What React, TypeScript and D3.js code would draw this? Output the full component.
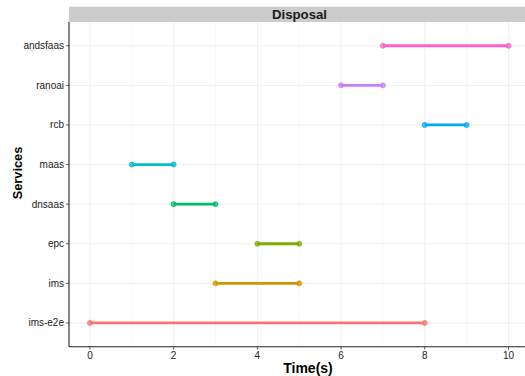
import React from "react";
import * as d3 from "d3";

const services = ["ims-e2e", "ims", "epc", "dnsaas", "maas", "rcb", "ranoai", "andsfaas"];
const startTimes = [0, 3, 4, 2, 1, 8, 6, 7];
const endTimes = [8, 5, 5, 3, 2, 9, 7, 10];
const colors = ["#F8766D", "#CD9600", "#7CAE00", "#00BE67", "#00BFC4", "#00A9FF", "#C77CFF", "#FF61CC"];
const xTicks = [0, 2, 4, 6, 8, 10];
const xMinor = [1, 3, 5, 7, 9];
const facetLabel = "Disposal";

const W = 525, H = 376;
const left = 69, right = 529.4, top = 22, bottom = 346.7;

export default function App() {
  const x = d3.scaleLinear().domain([-0.5, 10.5]).range([left, right]);
  const y = d3.scaleLinear().domain([0.4, services.length + 0.6]).range([bottom, top]);
  const font = "'Liberation Sans', Arial, Helvetica, sans-serif";
  return (
    <svg width={W} height={H} style={{ position: "absolute", left: 0, top: 0 }} fontFamily={font}>
      <rect x={0} y={0} width={W} height={H} fill="#fff" />
      <rect x={left} y={6.7} width={right - left} height={top - 6.7} fill="#cccccc" />
      <text x={299.5} y={19} textAnchor="middle" fontWeight="bold" fontSize={13.2} fill="#1a1a1a">{facetLabel}</text>
      {xMinor.map((t) => (
        <line key={"mn" + t} x1={x(t)} x2={x(t)} y1={top} y2={bottom} stroke="#f2f2f2" strokeWidth={0.6} />
      ))}
      {xTicks.map((t) => (
        <line key={"mj" + t} x1={x(t)} x2={x(t)} y1={top} y2={bottom} stroke="#ebebeb" strokeWidth={0.8} />
      ))}
      {services.map((s, i) => (
        <line key={"hg" + s} x1={left} x2={right} y1={y(i + 1)} y2={y(i + 1)} stroke="#ebebeb" strokeWidth={0.8} />
      ))}
      {services.map((s, i) => (
        <g key={s}>
          <line x1={x(startTimes[i])} x2={x(endTimes[i])} y1={y(i + 1)} y2={y(i + 1)} stroke={colors[i]} strokeWidth={2.8} />
          <circle cx={x(startTimes[i])} cy={y(i + 1)} r={2.5} fill={colors[i]} fillOpacity={0.75} stroke={colors[i]} strokeWidth={0.8} />
          <circle cx={x(endTimes[i])} cy={y(i + 1)} r={2.5} fill={colors[i]} fillOpacity={0.75} stroke={colors[i]} strokeWidth={0.8} />
        </g>
      ))}
      <line x1={left} x2={left} y1={top} y2={bottom} stroke="#222" strokeWidth={1.1} />
      <line x1={left} x2={right} y1={bottom} y2={bottom} stroke="#222" strokeWidth={1.1} />
      {services.map((s, i) => (
        <g key={"yl" + s}>
          <line x1={left - 3} x2={left} y1={y(i + 1)} y2={y(i + 1)} stroke="#333" strokeWidth={0.8} />
          <text x={left - 5} y={y(i + 1)} dy="0.35em" textAnchor="end" fontSize={10} fill="#222">{s}</text>
        </g>
      ))}
      {xTicks.map((t) => (
        <g key={"xl" + t}>
          <line x1={x(t)} x2={x(t)} y1={bottom} y2={bottom + 3} stroke="#333" strokeWidth={0.8} />
          <text x={x(t)} y={bottom + 12.5} textAnchor="middle" fontSize={10} fill="#222">{t}</text>
        </g>
      ))}
      <text x={308} y={373} textAnchor="middle" fontWeight="bold" fontSize={14} fill="#000">Time(s)</text>
      <text transform={`translate(21.5,173) rotate(-90)`} textAnchor="middle" fontWeight="bold" fontSize={12.8} fill="#000">Services</text>
    </svg>
  );
}
